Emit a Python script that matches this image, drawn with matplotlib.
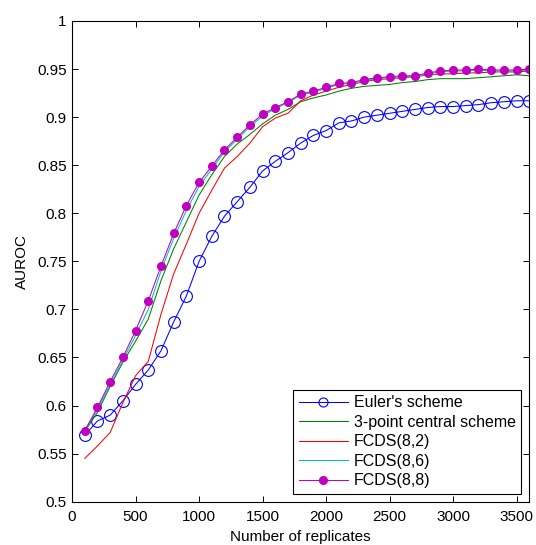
import matplotlib
matplotlib.use("Agg")
import matplotlib.pyplot as plt
import numpy as np

# number of replicates (x) and AUROC for each scheme
replicates = list(range(100, 3700, 100))

euler = [0.569, 0.584, 0.590, 0.605, 0.622, 0.637, 0.657, 0.687, 0.714, 0.750,
         0.776, 0.797, 0.812, 0.827, 0.844, 0.854, 0.863, 0.873, 0.881, 0.886,
         0.894, 0.896, 0.900, 0.902, 0.904, 0.906, 0.908, 0.910, 0.911, 0.911,
         0.912, 0.913, 0.915, 0.916, 0.917, 0.917]
central3 = [0.573, 0.593, 0.620, 0.645, 0.667, 0.690, 0.730, 0.763, 0.791, 0.819,
            0.840, 0.859, 0.872, 0.882, 0.893, 0.902, 0.908, 0.916, 0.920, 0.923,
            0.927, 0.930, 0.932, 0.933, 0.934, 0.936, 0.937, 0.939, 0.940, 0.940,
            0.940, 0.941, 0.942, 0.943, 0.944, 0.943]
fcds82 = [0.545, 0.558, 0.572, 0.603, 0.631, 0.646, 0.695, 0.737, 0.768, 0.800,
          0.824, 0.847, 0.859, 0.873, 0.890, 0.899, 0.904, 0.917, 0.923, 0.927,
          0.931, 0.934, 0.937, 0.939, 0.940, 0.941, 0.942, 0.944, 0.945, 0.945,
          0.946, 0.946, 0.947, 0.947, 0.947, 0.948]
fcds86 = [0.574, 0.596, 0.622, 0.647, 0.673, 0.700, 0.740, 0.774, 0.803, 0.828,
          0.846, 0.864, 0.877, 0.890, 0.901, 0.909, 0.915, 0.923, 0.926, 0.930,
          0.934, 0.935, 0.938, 0.940, 0.941, 0.942, 0.942, 0.945, 0.947, 0.948,
          0.948, 0.949, 0.948, 0.948, 0.948, 0.949]
fcds88 = [0.574, 0.598, 0.625, 0.650, 0.678, 0.709, 0.745, 0.779, 0.808, 0.832,
          0.849, 0.866, 0.879, 0.892, 0.903, 0.910, 0.916, 0.924, 0.927, 0.931,
          0.935, 0.936, 0.939, 0.941, 0.942, 0.943, 0.943, 0.946, 0.948, 0.949,
          0.949, 0.950, 0.949, 0.949, 0.949, 0.950]

plt.rcParams['font.family'] = ['Liberation Sans', 'DejaVu Sans']

fig = plt.figure(figsize=(5.36, 5.45), dpi=100)
ax = fig.add_axes([0.1345, 0.0795, 0.853, 0.882])

lw = 0.75
ax.plot(replicates, euler, color=(0, 0, 1), linewidth=lw, marker='o',
        markersize=8.5, markerfacecolor='none', markeredgewidth=0.8,
        label="Euler's scheme")
ax.plot(replicates, central3, color=(0, 0.5, 0), linewidth=lw,
        label='3-point central scheme')
ax.plot(replicates, fcds82, color=(1, 0, 0), linewidth=lw, label='FCDS(8,2)')
ax.plot(replicates, fcds86, color=(0, 0.75, 0.75), linewidth=lw, label='FCDS(8,6)')
ax.plot(replicates, fcds88, color=(0.75, 0, 0.75), linewidth=lw, marker='o',
        markersize=5.5, label='FCDS(8,8)')

ax.set_xlim(0, 3600)
ax.set_ylim(0.5, 1.0)
ax.set_xticks(np.arange(0, 3501, 500))
ax.set_yticks(np.arange(0.5, 1.001, 0.05))
ax.set_yticklabels(['0.5', '0.55', '0.6', '0.65', '0.7', '0.75', '0.8',
                    '0.85', '0.9', '0.95', '1'])
ax.tick_params(direction='in', top=True, right=True, labelsize=11, length=4,
               width=0.7)
ax.tick_params(axis='x', pad=6)
ax.tick_params(axis='y', pad=4)
for s in ax.spines.values():
    s.set_linewidth(0.8)

ax.set_xlabel('Number of replicates', fontsize=11, labelpad=4)
ax.set_ylabel('AUROC', fontsize=11, labelpad=6)

leg = ax.legend(loc='lower right', fontsize=11.5, handlelength=3.1,
                fancybox=False, edgecolor='black', framealpha=1,
                borderaxespad=0.5, labelspacing=0.28, borderpad=0.35,
                handletextpad=0.35)
leg.get_frame().set_linewidth(0.8)
leg.legend_handles[0].set_markersize(6.5)

fig.savefig('out.png', dpi=100)
